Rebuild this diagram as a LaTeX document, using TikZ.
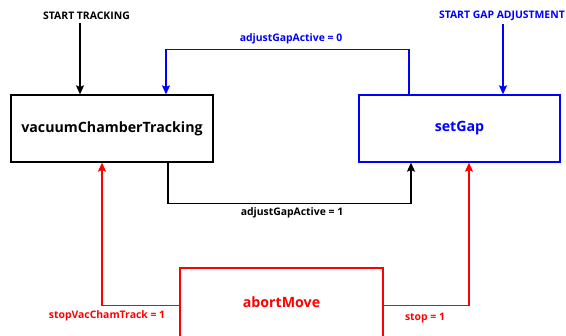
\documentclass[tikz,border=0pt]{standalone}
\usepackage{fontspec}
\setmainfont{Open Sans}
\usepackage{tikz}
\usetikzlibrary{arrows.meta}
\definecolor{gapblue}{RGB}{0,0,255}
\definecolor{abortred}{RGB}{255,0,0}
\newcommand{\drawflow}{\draw[line width=1.3pt,-{Stealth[length=9pt,width=8pt,inset=1.5pt]}]}
\tikzset{
  statebox/.style={draw,line width=1.3pt,minimum width=202pt,minimum height=67pt,
    font=\fontsize{14.2}{17}\selectfont\bfseries},
  smalllabel/.style={font=\fontsize{10.4}{12}\selectfont\bfseries,inner sep=0pt}
}

\begin{document}
\begin{tikzpicture}[x=1pt,y=-1pt]
\useasboundingbox (0,0) rectangle (566,336);
\node[statebox] (vct) at (112,128.5) {vacuumChamberTracking};
\node[statebox,draw=gapblue,text=gapblue,minimum width=201pt] (sg) at (459.5,128.5) {setGap};
\node[statebox,draw=abortred,text=abortred,minimum width=203pt,minimum height=69pt] (am) at (281.5,302.5) {abortMove};
\node[smalllabel] (st) at (86.5,16) {START TRACKING};
\node[smalllabel,text=gapblue,anchor=east] (sga) at (565,16) {START GAP ADJUSTMENT};
\node[smalllabel,text=gapblue] (l0) at (291,39) {adjustGapActive = 0};
\node[smalllabel] (l1) at (292,213) {adjustGapActive = 1};
\node[smalllabel,text=abortred] (lvc) at (107,315.5) {stopVacChamTrack = 1};
\node[smalllabel,text=abortred] (lst) at (425,318.5) {stop = 1};
\drawflow ([xshift=-6.5pt,yshift=-3pt]st.south) -- ([xshift=-6.5pt]st.south |- vct.north);
\drawflow[gapblue] (sga.south east) ++(-62,3) coordinate (sgin) -- (sgin |- sg.north);
\drawflow[gapblue] ([xshift=-50.5pt]sg.north) -- ++(0,-45) -| ([xshift=54pt]vct.north);
\drawflow ([xshift=56pt]vct.south) -- ++(0,41) -| ([xshift=-48.5pt]sg.south);
\drawflow[abortred] ([yshift=-3pt]am.west) -| ([xshift=-10pt]vct.south);
\drawflow[abortred] ([yshift=-3pt]am.east) -| ([xshift=9.5pt]sg.south);
\end{tikzpicture}
\end{document}
